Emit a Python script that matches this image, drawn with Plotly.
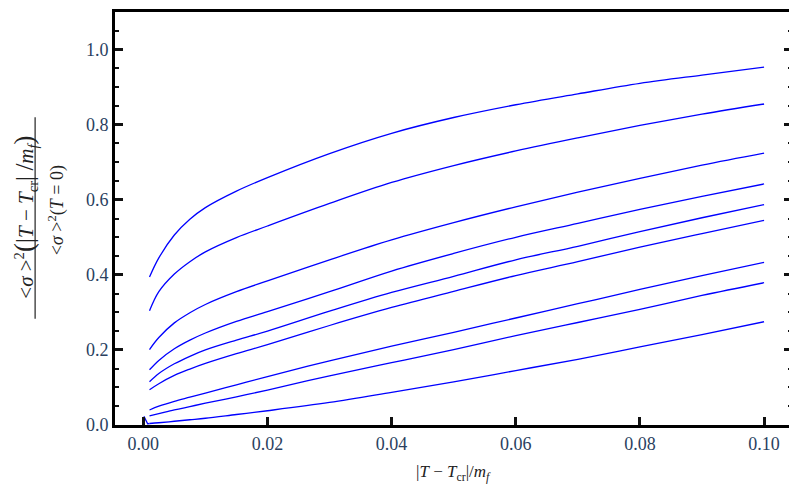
import plotly.graph_objects as go

# --- data ---
x_vals = [0.001, 0.0025, 0.005, 0.0075, 0.01, 0.015, 0.02, 0.03, 0.04,
          0.05, 0.06, 0.07, 0.08, 0.09, 0.1]

curve_1 = [0.394, 0.445, 0.506, 0.548, 0.579, 0.623, 0.659, 0.723, 0.777,
           0.819, 0.853, 0.882, 0.910, 0.932, 0.953]
curve_2 = [0.304, 0.355, 0.402, 0.435, 0.461, 0.499, 0.530, 0.590, 0.646,
           0.691, 0.730, 0.765, 0.798, 0.828, 0.855]
curve_3 = [0.201, 0.233, 0.272, 0.299, 0.321, 0.355, 0.384, 0.440, 0.493,
           0.539, 0.581, 0.620, 0.657, 0.692, 0.724]
curve_4 = [0.147, 0.172, 0.203, 0.226, 0.245, 0.276, 0.302, 0.355, 0.410,
           0.457, 0.500, 0.537, 0.574, 0.609, 0.642]
curve_5 = [0.115, 0.137, 0.163, 0.183, 0.200, 0.226, 0.250, 0.303, 0.353,
           0.396, 0.440, 0.476, 0.515, 0.552, 0.587]
curve_6 = [0.094, 0.110, 0.132, 0.149, 0.164, 0.190, 0.214, 0.265, 0.313,
           0.356, 0.398, 0.435, 0.474, 0.510, 0.545]
curve_7 = [0.040, 0.050, 0.063, 0.074, 0.085, 0.107, 0.129, 0.171, 0.210,
           0.247, 0.285, 0.323, 0.361, 0.398, 0.433]
curve_8 = [0.024, 0.030, 0.040, 0.049, 0.058, 0.075, 0.093, 0.131, 0.166,
           0.201, 0.238, 0.273, 0.308, 0.345, 0.379]
curve_9 = [0.004, 0.006, 0.010, 0.014, 0.018, 0.028, 0.038, 0.060, 0.087,
           0.115, 0.145, 0.175, 0.208, 0.241, 0.275]

# little piece near the origin
blip_x = [0.0001, 0.0004, 0.0007, 0.001]
blip_y = [0.023, 0.012, 0.003, 0.004]

curves = [curve_1, curve_2, curve_3, curve_4, curve_5,
          curve_6, curve_7, curve_8, curve_9]

x_ticks = [0.00, 0.02, 0.04, 0.06, 0.08, 0.10]
y_ticks = [0.0, 0.2, 0.4, 0.6, 0.8, 1.0]

fig = go.Figure()

for c in curves:
    fig.add_trace(go.Scatter(x=x_vals, y=c, mode='lines',
                             line=dict(color='#0000ff', width=1.3, shape='spline'),
                             showlegend=False))

fig.add_trace(go.Scatter(x=blip_x, y=blip_y, mode='lines',
                         line=dict(color='#0000ff', width=1.3),
                         showlegend=False))

serif = "Liberation Serif, serif"

fig.update_xaxes(range=[-0.00456, 0.1045], tickvals=x_ticks, tickformat='.2f',
                 showline=True, linecolor='black', linewidth=3, mirror=True,
                 ticks='inside', ticklen=8, tickwidth=3, tickcolor='#111',
                 tickfont=dict(family=serif, size=18),
                 showgrid=False, zeroline=False)
fig.update_yaxes(range=[0, 1.1], tickvals=y_ticks, tickformat='.1f',
                 showline=True, linecolor='black', linewidth=3, mirror='allticks',
                 ticks='inside', ticklen=8, tickwidth=3, tickcolor='#111',
                 minor=dict(dtick=0.05, ticks='inside', ticklen=4, tickwidth=2, tickcolor='#111'),
                 tickfont=dict(family=serif, size=18),
                 showgrid=False, zeroline=False)

# axis labels drawn as annotations (fraction on y)
fig.add_annotation(text='|<i>T</i> − <i>T</i><sub>cr</sub>|/<i>m</i><sub><i>f</i></sub>',
                   xref='paper', yref='paper', x=0.5, y=0, yshift=-48,
                   xanchor='center', yanchor='middle',
                   showarrow=False, font=dict(family=serif, size=17, color='#222'))

fig.add_annotation(text='&lt;<i>σ</i> &gt;<sup>2</sup><span style="font-size:27px">(</span>'
                        '<span style="font-size:25px">|</span><i>T</i> − <i>T</i><sub>cr</sub>'
                        '<span style="font-size:25px">|</span> <span style="font-size:25px">/</span>'
                        '<i>m</i><sub><i>f</i></sub><span style="font-size:27px">)</span>',
                   xref='paper', yref='paper', x=0, y=0.502, xshift=-90,
                   xanchor='center', yanchor='middle',
                   textangle=-90, showarrow=False,
                   font=dict(family=serif, size=21, color='#222'))
fig.add_annotation(text='&lt;<i>σ</i> &gt;<sup>2</sup>(<i>T</i> = 0)',
                   xref='paper', yref='paper', x=0, y=0.52, xshift=-58,
                   xanchor='center', yanchor='middle',
                   textangle=-90, showarrow=False,
                   font=dict(family=serif, size=18, color='#222'))
fig.add_shape(type='line', xref='paper', yref='paper',
              x0=-0.118, x1=-0.118, y0=0.257, y1=0.745,
              line=dict(color='#222', width=1.2))

# page body has an 8px margin, so the figure is a bit smaller than the window
fig.update_layout(width=789, height=488,
                  margin=dict(l=107, r=5, t=1, b=71),
                  plot_bgcolor='white', paper_bgcolor='white')

fig.write_html("out.html")
